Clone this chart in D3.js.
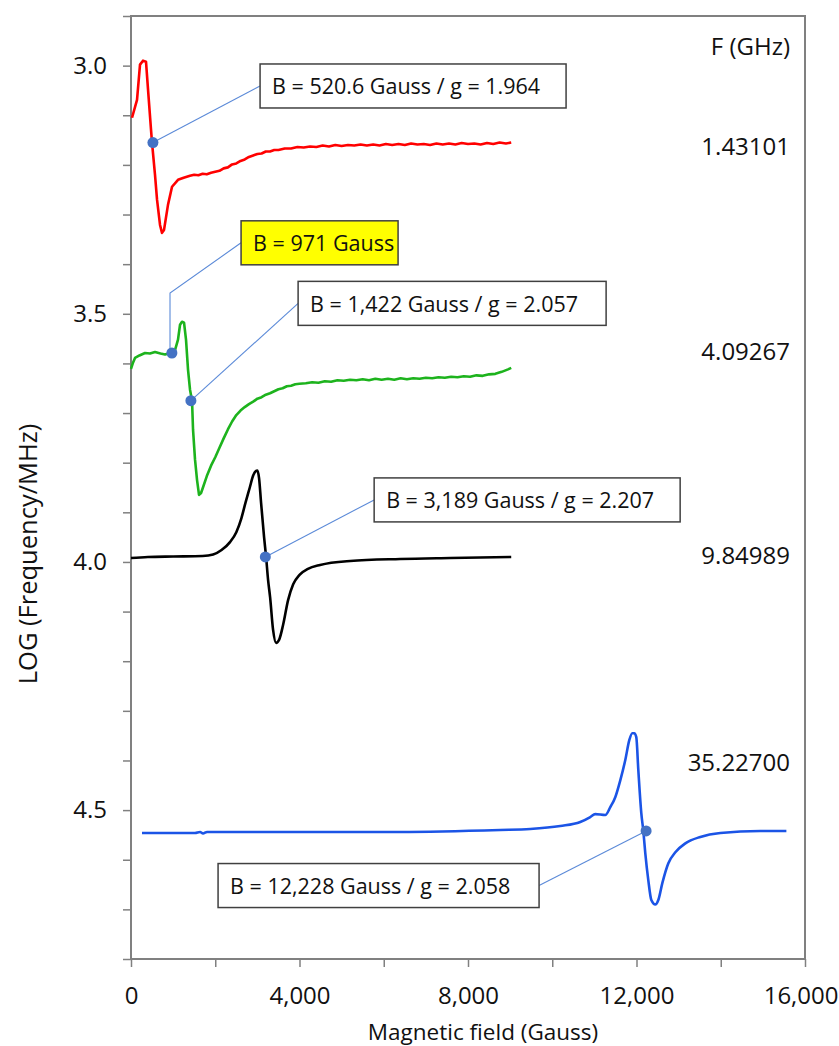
<!DOCTYPE html>
<html>
<head>
<meta charset="utf-8">
<script src="https://cdn.jsdelivr.net/npm/d3@7/dist/d3.min.js"></script>
<style>
  html, body { margin: 0; padding: 0; background: #fff; }
  svg { display: block; font-family: "Open Sans", sans-serif; }
</style>
</head>
<body>
<svg id="chart" width="839" height="1046"></svg>
<script>
// ---------- DATA (Gauss, LOG(Frequency/MHz) offset) ----------
const frequenciesGHz = ["1.43101", "4.09267", "9.84989", "35.22700"];
const freqLabelY = [3.160, 3.573, 3.986, 4.403];

const redSeries = [
  [24,3.105],[143,3.069],[214,2.998],[285,2.990],[356,2.992],[404,3.048],[475,3.129],[499,3.155],
  [570,3.220],[618,3.270],[689,3.321],[736,3.337],[784,3.331],[879,3.280],[974,3.244],[1116,3.230],
  [1250,3.226],[1400,3.222],[1500,3.220],[1600,3.221],[1700,3.218],[1800,3.219],[1900,3.216],[2000,3.214],
  [2100,3.212],[2200,3.207],[2300,3.205],[2400,3.199],[2500,3.197],[2600,3.192],[2700,3.189],[2800,3.184],
  [2900,3.181],[3000,3.178],[3100,3.177],[3200,3.173],[3300,3.173],[3400,3.170],[3500,3.170],[3650,3.167],
  [3800,3.167],[3950,3.164],[4100,3.165],[4250,3.163],[4400,3.164],[4550,3.161],[4700,3.163],[4850,3.160],
  [5000,3.162],[5150,3.160],[5300,3.161],[5450,3.159],[5600,3.161],[5750,3.159],[5900,3.161],[6050,3.158],
  [6200,3.160],[6350,3.158],[6500,3.160],[6650,3.157],[6800,3.159],[6950,3.158],[7100,3.160],[7250,3.157],
  [7400,3.159],[7550,3.157],[7700,3.159],[7850,3.156],[8000,3.158],[8150,3.157],[8300,3.159],[8450,3.156],
  [8600,3.158],[8750,3.155],[8900,3.157],[9026,3.155]
];

const greenSeries = [
  [0,3.611],[50,3.598],[95,3.589],[200,3.584],[333,3.579],[450,3.580],[570,3.577],[700,3.580],[808,3.582],
  [926,3.579],[1045,3.573],[1116,3.552],[1164,3.522],[1211,3.516],[1259,3.518],[1306,3.552],[1354,3.613],
  [1401,3.653],[1449,3.675],[1473,3.734],[1520,3.794],[1568,3.835],[1615,3.865],[1663,3.861],
  [1700,3.852],[1800,3.827],[1900,3.806],[2000,3.789],[2100,3.770],[2200,3.751],[2300,3.733],[2400,3.717],
  [2500,3.704],[2600,3.695],[2700,3.688],[2800,3.682],[2900,3.677],[3000,3.671],[3100,3.668],[3200,3.663],
  [3300,3.660],[3400,3.656],[3500,3.652],[3600,3.650],[3700,3.646],[3800,3.645],[3900,3.642],[4000,3.641],
  [4150,3.640],[4300,3.638],[4450,3.639],[4600,3.636],[4750,3.637],[4900,3.634],[5050,3.635],[5200,3.633],
  [5350,3.634],[5500,3.632],[5650,3.634],[5800,3.631],[5950,3.633],[6100,3.631],[6250,3.633],[6400,3.630],
  [6550,3.632],[6700,3.630],[6850,3.631],[7000,3.629],[7150,3.630],[7300,3.628],[7450,3.629],[7600,3.627],
  [7750,3.628],[7900,3.626],[8050,3.627],[8200,3.624],[8350,3.625],[8500,3.622],[8650,3.621],[8800,3.617],
  [8950,3.612],[9026,3.609]
];

const blackSeries = [
  [0,3.992],[400,3.990],[1000,3.989],[1700,3.988],[1950,3.985],[2150,3.976],[2350,3.960],[2500,3.940],
  [2620,3.912],[2720,3.880],[2820,3.850],[2900,3.826],[2960,3.817],[3000,3.816],[3040,3.831],[3088,3.881],
  [3159,3.950],[3207,3.990],[3254,4.036],[3302,4.071],[3373,4.137],[3444,4.163],[3515,4.157],[3610,4.127],
  [3729,4.077],[3850,4.045],[4000,4.026],[4200,4.014],[4489,4.006],[5202,3.998],[6390,3.994],[7577,3.992],
  [9026,3.990]
];

const blueSeries = [
  [261,4.546],[1520,4.546],[1639,4.544],[1710,4.547],[1805,4.544],[4014,4.544],[6390,4.544],[8765,4.540],
  [9477,4.538],[10190,4.532],[10665,4.524],[10903,4.514],[11021,4.508],[11259,4.510],[11378,4.494],
  [11496,4.474],[11615,4.440],[11734,4.399],[11829,4.359],[11900,4.345],[11948,4.345],[11995,4.353],
  [12043,4.419],[12114,4.506],[12162,4.542],[12209,4.587],[12280,4.641],[12352,4.681],[12447,4.690],
  [12518,4.681],[12613,4.647],[12756,4.607],[12922,4.585],[13160,4.567],[13516,4.554],[13991,4.546],
  [14941,4.542],[15558,4.542]
];

const markerB = [520.6, 971, 1422, 3189, 12228];
const markerY = [3.155, 3.579, 3.675, 3.990, 4.542];
const markerText = [
  "B = 520.6 Gauss / g = 1.964",
  "B = 971 Gauss",
  "B = 1,422 Gauss / g = 2.057",
  "B = 3,189 Gauss / g = 2.207",
  "B = 12,228 Gauss / g = 2.058"
];

const xTicks = [0, 2000, 4000, 6000, 8000, 10000, 12000, 14000, 16000];
const xTickLabels = ["0", "", "4,000", "", "8,000", "", "12,000", "", "16,000"];
const yTicks = d3.range(29, 49).map(v => v / 10);
const yTickLabels = yTicks.map(v => [3.0, 3.5, 4.0, 4.5].some(t => Math.abs(t - v) < 1e-9) ? v.toFixed(1) : "");

// ---------- LAYOUT ----------
const W = 839, H = 1046;
const plot = { left: 131, right: 805, top: 16, bottom: 959 };
const seriesColors = ["#ff0000", "#1db31d", "#000000", "#1b54e6"];
const seriesCurves = [d3.curveLinear, d3.curveLinear, d3.curveMonotoneX, d3.curveMonotoneX];
// annotation box positions (data units: left-edge field, centre log value)
const boxLeft = [3064, 2613, 3967, 5772, 2067];
const boxMidY = [3.041, 3.357, 3.479, 3.875, 4.652];
const boxWidth = [306, 157, 308, 306, 321];
const boxFill = ["#fff", "#ffff00", "#fff", "#fff", "#fff"];

const svg = d3.select("#chart");
const x = d3.scaleLinear().domain([0, 16000]).range([plot.left, plot.right]);
const y = d3.scaleLinear().domain([2.9, 4.8]).range([plot.top, plot.bottom]);

// axes
const xAxis = d3.axisBottom(x).tickValues(xTicks)
  .tickFormat((d, i) => xTickLabels[i]).tickSize(8).tickPadding(20);
const gx = svg.append("g").attr("transform", `translate(0,${plot.bottom})`).call(xAxis);
gx.select(".domain").remove();
gx.selectAll(".tick line").attr("stroke", "#808080").attr("stroke-width", 1.5);
gx.selectAll(".tick text").attr("font-size", 24).attr("fill", "#111").attr("font-family", "Open Sans");
gx.selectAll(".tick text").filter(d => d === 16000).attr("text-anchor", "end").attr("dx", 33);

const yAxis = d3.axisLeft(y).tickValues(yTicks)
  .tickFormat((d, i) => yTickLabels[i]).tickSize(8).tickPadding(16);
const gy = svg.append("g").attr("transform", `translate(${plot.left},0)`).call(yAxis);
gy.select(".domain").remove();
gy.selectAll(".tick line").attr("stroke", "#808080").attr("stroke-width", 1.5);
gy.selectAll(".tick text").attr("font-size", 24).attr("fill", "#111").attr("font-family", "Open Sans");

// plot frame
svg.append("rect")
  .attr("x", plot.left).attr("y", plot.top)
  .attr("width", plot.right - plot.left).attr("height", plot.bottom - plot.top)
  .attr("fill", "none").attr("stroke", "#808080").attr("stroke-width", 2);

// axis titles
svg.append("text")
  .attr("x", 483).attr("y", 1040)
  .attr("text-anchor", "middle").attr("font-size", 22.5).attr("fill", "#111")
  .text("Magnetic field (Gauss)");
svg.append("text")
  .attr("transform", `translate(37,554) rotate(-90)`)
  .attr("text-anchor", "middle").attr("font-size", 25.5).attr("fill", "#111")
  .text("LOG (Frequency/MHz)");

// series
[redSeries, greenSeries, blackSeries, blueSeries].forEach((s, i) => {
  const line = d3.line().x(d => x(d[0])).y(d => y(d[1])).curve(seriesCurves[i]);
  svg.append("path").datum(s)
    .attr("d", line).attr("fill", "none")
    .attr("stroke", seriesColors[i]).attr("stroke-width", 2.6)
    .attr("stroke-linejoin", "round");
});

// frequency labels
svg.append("text").attr("x", 790).attr("y", y(2.9) + 29)
  .attr("text-anchor", "end").attr("dominant-baseline", "central")
  .attr("font-size", 24).attr("fill", "#111").text("F (GHz)");
frequenciesGHz.forEach((f, i) => {
  svg.append("text").attr("x", 790).attr("y", y(freqLabelY[i]))
    .attr("text-anchor", "end").attr("dominant-baseline", "central")
    .attr("font-size", 24).attr("fill", "#111").text(f);
});

// leader lines
const leaderColor = "#5b8ad8";
const boxH = 44;
markerB.forEach((b, i) => {
  const px = x(b), py = y(markerY[i]);
  const bl = x(boxLeft[i]), bm = y(boxMidY[i]);
  let pts;
  if (i === 1) pts = [[bl, bm], [x(926), y(3.458)], [x(926), py]];
  else if (i === 4) pts = [[px, py], [bl + boxWidth[i], bm]];
  else pts = [[px, py], [bl, bm]];
  svg.append("path").attr("d", d3.line()(pts))
    .attr("fill", "none").attr("stroke", leaderColor).attr("stroke-width", 1.1);
});

// annotation boxes
markerText.forEach((t, i) => {
  const bl = x(boxLeft[i]), bm = y(boxMidY[i]);
  svg.append("rect").attr("x", bl).attr("y", bm - boxH / 2)
    .attr("width", boxWidth[i]).attr("height", boxH)
    .attr("fill", boxFill[i]).attr("stroke", "#404040").attr("stroke-width", 1.5);
  svg.append("text").attr("x", bl + 12).attr("y", bm)
    .attr("dominant-baseline", "central").attr("font-size", 21.5).attr("fill", "#111")
    .text(t);
});

// markers
markerB.forEach((b, i) => {
  svg.append("circle").attr("cx", x(b)).attr("cy", y(markerY[i])).attr("r", 5.5)
    .attr("fill", "#4472c4");
});
</script>
</body>
</html>
